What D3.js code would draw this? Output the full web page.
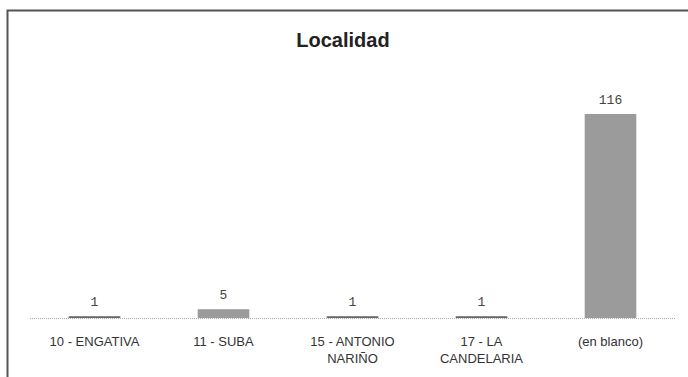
<!DOCTYPE html>
<html lang="en">

<head>
    <meta charset="utf-8">
    <script src="https://d3js.org/d3.v7.min.js"></script>
    <style>
        body { margin: 0; background: #fff; }
    </style>
</head>

<body>
    <script>
        // data
        const categories = ["10 - ENGATIVA", "11 - SUBA", "15 - ANTONIO NARIÑO", "17 - LA CANDELARIA", "(en blanco)"];
        const labelLines = [["10 - ENGATIVA"], ["11 - SUBA"], ["15 - ANTONIO", "NARIÑO"], ["17 - LA", "CANDELARIA"], ["(en blanco)"]];
        const counts = [1, 5, 1, 1, 116];

        const width = 688,
            height = 377;

        const svg = d3.select("body")
            .append("svg")
            .attr("width", width)
            .attr("height", height);

        // frame (left and top edges only visible)
        svg.append("path")
            .attr("d", "M7.5,377 V10.5 H688")
            .attr("fill", "none")
            .attr("stroke", "#555")
            .attr("stroke-width", 2);

        // title
        svg.append("text")
            .attr("x", 343)
            .attr("y", 47)
            .attr("text-anchor", "middle")
            .style("font-family", "Liberation Sans, Arial, sans-serif")
            .style("font-weight", "bold")
            .style("font-size", "20px")
            .attr("fill", "#222")
            .text("Localidad");

        // scales
        const x = d3.scaleBand()
            .domain(categories)
            .range([30, 675])
            .paddingInner(0.6)
            .paddingOuter(0.3);

        const y = d3.scaleLinear()
            .domain([0, 116])
            .range([318, 114]);

        // baseline
        svg.append("line")
            .attr("x1", 30)
            .attr("x2", 675)
            .attr("y1", y(0) + 0.5)
            .attr("y2", y(0) + 0.5)
            .attr("stroke", "#aaa")
            .attr("stroke-dasharray", "1,1");

        // bars
        svg.selectAll(".bar")
            .data(counts)
            .enter()
            .append("rect")
            .attr("class", "bar")
            .attr("x", (d, i) => x(categories[i]))
            .attr("width", x.bandwidth())
            .attr("y", d => y(d))
            .attr("height", d => y(0) - y(d))
            .attr("fill", d => d > 1 ? "#9b9b9b" : "#666");

        // value labels
        svg.selectAll(".val")
            .data(counts)
            .enter()
            .append("text")
            .attr("class", "val")
            .attr("x", (d, i) => x(categories[i]) + x.bandwidth() / 2)
            .attr("y", d => y(d) - 10)
            .attr("text-anchor", "middle")
            .style("font-family", "Liberation Mono, Courier New, monospace")
            .style("font-size", "13px")
            .attr("fill", "#444")
            .text(d => d);

        // category labels
        const cat = svg.selectAll(".cat")
            .data(labelLines)
            .enter()
            .append("text")
            .attr("class", "cat")
            .attr("text-anchor", "middle")
            .style("font-family", "Liberation Sans, Arial, sans-serif")
            .style("font-size", "13px")
            .attr("fill", "#333");

        cat.selectAll("tspan")
            .data((d, i) => d.map(s => ({ s: s, i: i })))
            .enter()
            .append("tspan")
            .attr("x", d => x(categories[d.i]) + x.bandwidth() / 2)
            .attr("y", (d, j) => 346 + j * 17)
            .text(d => d.s);
    </script>
</body>

</html>
